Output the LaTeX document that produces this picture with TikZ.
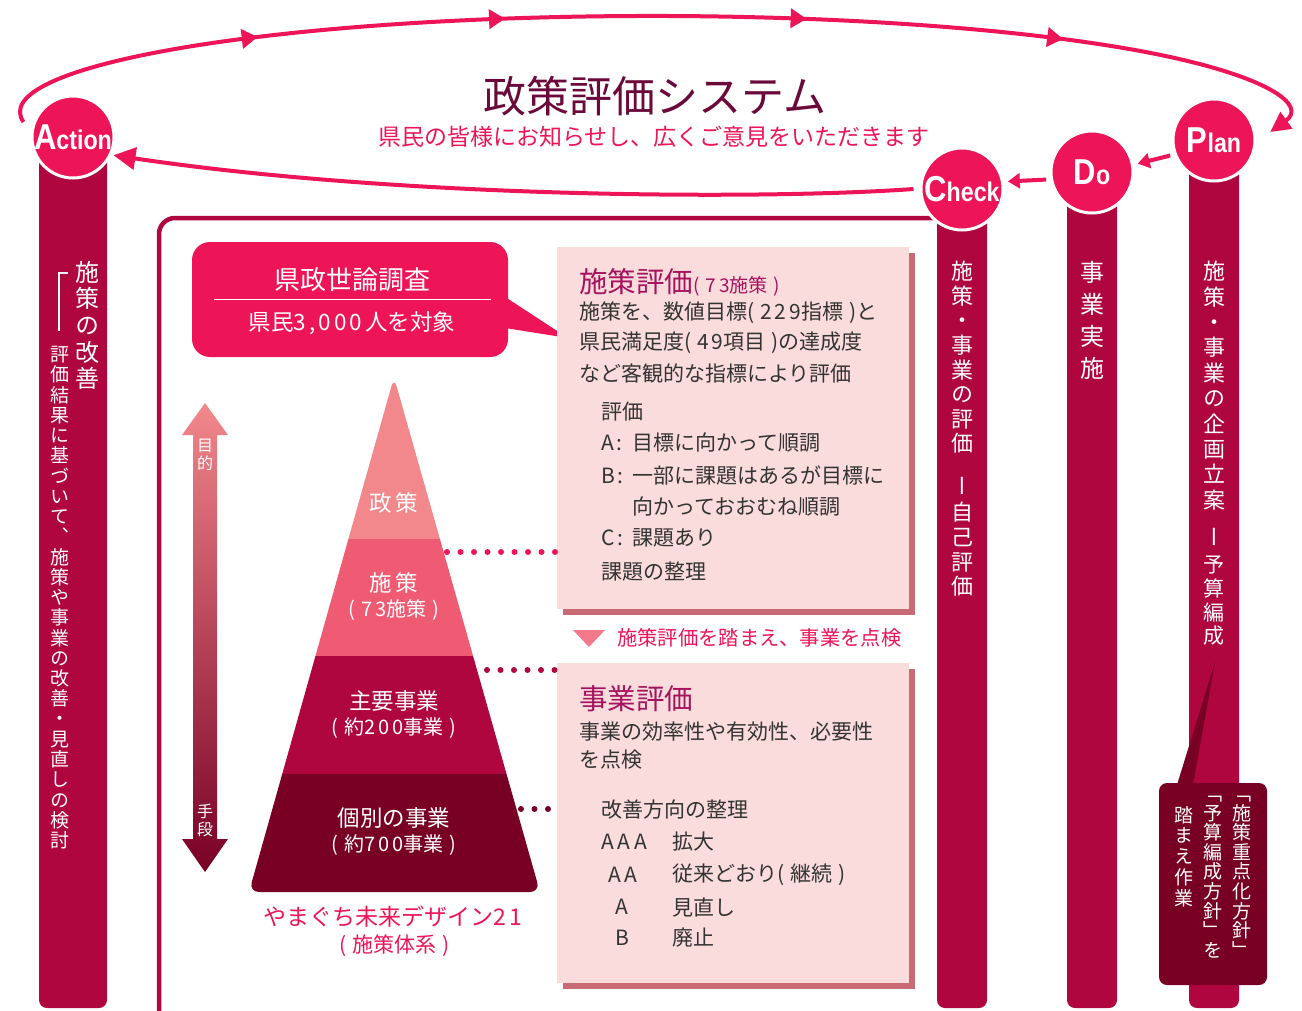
\documentclass[tikz,border=0pt]{standalone}
\usepackage{fontspec}
\setmainfont{Noto Sans CJK JP}
\newfontfamily\tatefont{Noto Sans CJK JP}[RawFeature=+vert]
\newfontfamily\pdcafont{Liberation Sans}
\usetikzlibrary{arrows.meta, decorations.markings, shadows}

\definecolor{pinkred}{HTML}{EE1458}
\definecolor{crimson}{HTML}{B0063F}
\definecolor{maroon}{HTML}{780025}
\definecolor{titlecol}{HTML}{6B0A3A}
\definecolor{headcol}{HTML}{A5135F}
\definecolor{bandA}{HTML}{F2888C}
\definecolor{bandB}{HTML}{EE5B72}
\definecolor{boxfill}{HTML}{FBDCDC}
\definecolor{shadowcol}{HTML}{C86B74}
\definecolor{textcol}{HTML}{333333}
\definecolor{markcol}{HTML}{F07A8A}

% vertical text: one character per line
\makeatletter
\newcommand\tate[1]{\tate@first#1\@nil}
\def\tate@first#1{#1\tate@next}
\def\tate@next#1{\ifx\@nil#1\else\\#1\expandafter\tate@next\fi}
\makeatother

% big first letter, then the rest
\newcommand\pdcaword[2]{\scalebox{0.86}[1]{\pdcafont\bfseries\fontsize{36}{36}\selectfont #1\fontsize{27}{27}\selectfont #2}}
% spaced digits and brackets
\newcommand\dsp{\hspace{3pt}}
\newcommand\bsp{\hspace{6pt}}

\begin{document}
\begin{tikzpicture}[x=1pt, y=-1pt,
    pdca/.style={circle, fill=pinkred, draw=white, line width=3pt, minimum size=82pt, inner sep=0pt, text=white},
    column/.style={fill=crimson, rounded corners=8pt},
    loopline/.style={pinkred, line width=4pt},
    steparrow/.style={pinkred, line width=4pt, -{Triangle[length=12pt,width=15pt]}, shorten <=4pt, shorten >=4pt},
    tate/.style 2 args={white, align=center, inner sep=0pt, anchor=north, text width=#1pt, font={\tatefont\fontsize{#1}{#2}\selectfont}},
    bandlabel/.style={white, inner sep=0pt, font=\fontsize{22.5}{24}\selectfont},
    bandnote/.style={white, inner sep=0pt, font=\fontsize{20}{22}\selectfont},
    evalbox/.style={fill=boxfill, minimum width=352pt, inner sep=0pt, drop shadow={shadow xshift=6pt, shadow yshift=-6pt, fill=shadowcol, opacity=1}},
    boxhead/.style={headcol, anchor=west, inner sep=0pt, font=\fontsize{28.5}{30}\selectfont},
    boxtext/.style={textcol, anchor=west, inner sep=0pt, font=\fontsize{21}{23}\selectfont},
    dotline/.style={line width=6pt, line cap=round, dash pattern=on 0pt off 13.5pt}
]
    \useasboundingbox (0,0) rectangle (1302,1010);

    % Frame round the evaluation part
    \draw[crimson, line width=4.5pt, rounded corners=16pt] (159,1020) -- (159,218) -- (945,218);

    % Columns under the circles
    \fill[column] (39,150) rectangle (107,1008);
    \fill[column] (937,200) rectangle (987,1008);
    \fill[column] (1067,190) rectangle (1117,1008);
    \fill[column] (1189,160) rectangle (1239,1008);

    % Title
    \node[titlecol, inner sep=0pt, font=\fontsize{43}{48}\selectfont] (title) at (655,96) {政策評価システム};
    \node[pinkred, inner sep=0pt, font=\fontsize{23}{26}\selectfont] (subtitle) at (654,137) {県民の皆様にお知らせし、広くご意見をいただきます};

    % PDCA circles
    \node[pdca] (action) at (73,137) {\pdcaword{A}{ction}};
    \node[pdca] (plan) at (1214,140) {\pdcaword{P}{lan}};
    \node[pdca] (do) at (1092,172) {\pdcaword{D}{o}};
    \node[pdca] (check) at (962,189) {\pdcaword{C}{heck}};

    % Upper loop, Action to Plan
    \coordinate (loopstart) at (23.5,122);
    \draw[loopline, -{Triangle[length=20pt,width=20pt]},
        postaction={decorate, decoration={markings,
            mark=at position 0.2 with {\arrow{Triangle[length=16pt,width=19pt]}},
            mark=at position 0.385 with {\arrow{Triangle[length=16pt,width=19pt]}},
            mark=at position 0.61 with {\arrow{Triangle[length=16pt,width=19pt]}},
            mark=at position 0.802 with {\arrow{Triangle[length=16pt,width=19pt]}}}}]
        (loopstart) arc[start angle=174, end angle=372, x radius=632, y radius=96];

    % Lower loop, Check back to Action
    \draw[loopline, -{Triangle[length=22pt,width=22pt]}, shorten >=2pt]
        ([xshift=-6pt]check.west) .. controls (760,200) and (400,198) .. (action.-25);

    % Plan -> Do -> Check
    \draw[steparrow] (plan.200) -- (do.10);
    \draw[steparrow] (do.190) -- (check.10);

    % Column texts
    \node[tate={24}{26.6}] (actionmain) at (87,261) {\tate{施策の改善}};
    \draw[white, line width=1.3pt] (68,273) -- (59,273) -- (59,331);
    \node[tate={19}{20.25}] (actionnote) at (60,346) {\tate{評価結果に基づいて、施策や事業の改善・見直しの検討}};

    \node[tate={22}{24.6}] (checkmain) at (962,261) {\tate{施策・事業の評価}};
    \node[white, inner sep=0pt, font={\tatefont\fontsize{22}{24}\selectfont}] (checkdash) at (962,486) {ー};
    \node[tate={22}{24.7}] (checknote) at (962,502) {\tate{自己評価}};

    \node[tate={24}{32}] (domain) at (1092,261) {\tate{事業実施}};

    \node[tate={22}{25.4}] (planmain) at (1214,261) {\tate{施策・事業の企画立案}};
    \node[white, inner sep=0pt, font={\tatefont\fontsize{22}{24}\selectfont}] (plandash) at (1214,537) {ー};
    \node[tate={21}{23.7}] (plannote) at (1214,556) {\tate{予算編成}};

    % Callout under Plan
    \node[fill=maroon, rounded corners=8pt, minimum width=108pt, minimum height=202pt] (planbox) at (1213,884) {};
    \coordinate (plantip) at (1215,662);
    \fill[maroon] ([xshift=-36pt,yshift=-2pt]planbox.north) -- (plantip) -- ([xshift=-20pt,yshift=-2pt]planbox.north) -- cycle;
    \node[tate={19}{19.6}] (planboxA) at (1242,796) {\tate{「施策重点化方針」}};
    \node[tate={19}{19.6}] (planboxB) at (1213,796) {\tate{「予算編成方針」を}};
    \node[tate={19}{20.8}] (planboxC) at (1184,806) {\tate{踏まえ作業}};

    % Survey callout
    \node[fill=pinkred, rounded corners=18pt, minimum width=316pt, minimum height=115pt] (survey) at (350,299.5) {};
    \fill[pinkred] ([xshift=-3pt,yshift=2.5pt]survey.east) -- (568,338) -- ([xshift=-3pt,yshift=-28.5pt]survey.east) -- cycle;
    \node[white, inner sep=0pt, font=\fontsize{26}{28}\selectfont] (surveyhead) at (352,280) {県政世論調査};
    \draw[white, line width=1.5pt] ([xshift=22pt]survey.west) -- ([xshift=-17pt]survey.east);
    \node[white, inner sep=0pt, font=\fontsize{22.5}{25}\selectfont] (surveynote) at (352,323) {県民3\dsp,\dsp0\dsp0\dsp0\dsp 人を対象};

    % Purpose / means arrow
    \shade[top color=bandA, bottom color=maroon] (205,403) -- (228,435) -- (217,435) -- (217,839) -- (228,839)
        -- (205,872) -- (182,839) -- (193,839) -- (193,435) -- (182,435) -- cycle;
    \node[tate={16}{17.5}] (aimlabel) at (205,439) {\tate{目的}};
    \node[tate={16}{17.5}] (meanslabel) at (205,804) {\tate{手段}};

    % Pyramid
    \begin{scope}
        \clip[rounded corners=10pt] (394,377) -- (540,892) -- (249,892) -- cycle;
        \fill[bandA] (240,370) rectangle (550,539);
        \fill[bandB] (240,539) rectangle (550,656);
        \fill[crimson] (240,656) rectangle (550,774);
        \fill[maroon] (240,774) rectangle (550,900);
    \end{scope}
    \node[bandlabel] (policy) at (394,503) {政\hspace{4pt}策};
    \node[bandlabel] (measure) at (394,583) {施\hspace{4pt}策};
    \node[bandnote] (measurenum) at (394,610) {(\bsp 7\dsp3施策\bsp)};
    \node[bandlabel] (mainproj) at (394,701) {主要事業};
    \node[bandnote] (mainprojnum) at (394,728) {(\bsp 約2\dsp0\dsp0事業\bsp)};
    \node[bandlabel] (eachproj) at (394,818) {個別の事業};
    \node[bandnote] (eachprojnum) at (394,845) {(\bsp 約7\dsp0\dsp0事業\bsp)};
    \node[pinkred, inner sep=0pt, font=\fontsize{23}{25}\selectfont] (design) at (393,917) {やまぐち未来デザイン2\dsp1};
    \node[pinkred, inner sep=0pt, font=\fontsize{21}{23}\selectfont] (designsub) at (395,946) {(\bsp 施策体系\bsp)};

    % Evaluation boxes
    \node[evalbox, minimum height=362pt] (policybox) at (733,428) {};
    \node[evalbox, minimum height=320pt] (projectbox) at (733,823) {};

    % Dotted links from the pyramid
    \coordinate (dotA) at (447,552);
    \coordinate (dotB) at (487,670);
    \coordinate (dotC) at (521,809);
    \draw[dotline, pinkred] (dotA) -- (dotA -| policybox.west);
    \draw[dotline, crimson] (dotB) -- (dotB -| projectbox.west);
    \draw[dotline, maroon] (dotC) -- (dotC -| projectbox.west);

    % Policy evaluation text
    \node[boxhead] (policyhead) at (579,282) {施策評価{\fontsize{19}{20}\selectfont(\bsp 7\dsp3施策\bsp)}};
    \node[boxtext] (p1) at (579,313) {施策を、数値目標(\bsp 2\dsp2\dsp9指標\bsp)と};
    \node[boxtext] (p2) at (579,343) {県民満足度(\bsp 4\dsp9項目\bsp)の達成度};
    \node[boxtext] (p3) at (579,373) {など客観的な指標により評価};
    \node[boxtext] (p4) at (601,412) {評価};
    \node[boxtext] (p5) at (601,443) {\makebox[31pt][l]{A\hspace{3pt}:}目標に向かって順調};
    \node[boxtext] (p6) at (601,475) {\makebox[31pt][l]{B\hspace{3pt}:}一部に課題はあるが目標に};
    \node[boxtext] (p7) at (632,507) {向かっておおむね順調};
    \node[boxtext] (p8) at (601,538) {\makebox[31pt][l]{C\hspace{3pt}:}課題あり};
    \node[boxtext] (p9) at (601,572) {課題の整理};

    % Step between the boxes
    \fill[markcol] (573,630) -- (605,630) -- (589,647) -- cycle;
    \node[pinkred, anchor=west, inner sep=0pt, font=\fontsize{20.3}{22}\selectfont] (stepnote) at (617,638) {施策評価を踏まえ、事業を点検};

    % Project evaluation text
    \node[boxhead] (projecthead) at (579,699) {事業評価};
    \node[boxtext] (q1) at (579,732) {事業の効率性や有効性、必要性};
    \node[boxtext] (q2) at (579,760) {を点検};
    \node[boxtext] (q3) at (601,810) {改善方向の整理};
    \node[boxtext] (q4) at (601,842) {A\hspace{4pt}A\hspace{4pt}A};
    \node[boxtext] (q5) at (608,875) {A\hspace{4pt}A};
    \node[boxtext] (q6) at (615,907) {A};
    \node[boxtext] (q7) at (615,938) {B};
    \node[boxtext] (r4) at (672,842) {拡大};
    \node[boxtext] (r5) at (672,875) {従来どおり(\bsp 継続\bsp)};
    \node[boxtext] (r6) at (672,907) {見直し};
    \node[boxtext] (r7) at (672,938) {廃止};
\end{tikzpicture}
\end{document}
